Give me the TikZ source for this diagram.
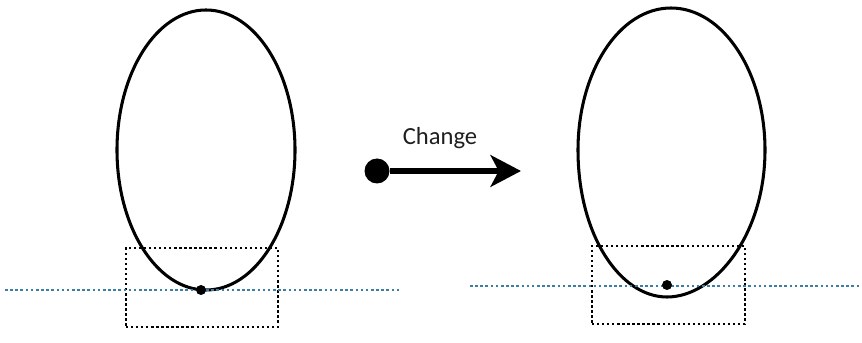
\documentclass[tikz,border=0pt]{standalone}
\usepackage{fontspec}
\setmainfont{Carlito}
\usepackage{xcolor}
\usetikzlibrary{arrows.meta,positioning,shapes.geometric}
\definecolor{gndblue}{RGB}{60,125,165}
\begin{document}
\begin{tikzpicture}[x=0.03cm,y=-0.03cm,
  outl/.style={draw, line width=2.6pt},
  dotbox/.style={draw, line width=2.1pt, dash pattern=on 2pt off 2.3pt},
  gnd/.style={draw=gndblue, line width=2pt, dash pattern=on 2.2pt off 2.2pt},
  pt/.style={circle, fill, inner sep=0pt, minimum size=0.3cm},
  arr/.style={-{Stealth[length=26pt,width=27pt,inset=7pt]}, line width=4.6pt}
]
\useasboundingbox (0,0) rectangle (862,343);
% left shape
\node[outl, ellipse, minimum width=5.34cm, minimum height=8.4cm, inner sep=0pt] (eggL) at (206,150) {};
\node[dotbox, minimum width=4.56cm, minimum height=2.37cm, inner sep=0pt] (boxL) at (202,287.5) {};
\coordinate (gL1) at (5,290);
\coordinate (gL2) at (400,290);
\draw[gnd] (gL1) -- (gL2);
\node[pt] (touchL) at (201,290) {};
% arrow
\node[pt, minimum size=0.75cm] (src) at (377,171) {};
\coordinate (dst) at (521,171);
\draw[arr] (src) -- (dst);
\node[font=\fontsize{21}{24}\selectfont, text=black!88] (lbl) at (440,138) {Change};
% right shape
\draw[outl] (671,8) .. controls (723,8) and (765,72) .. (765,150)
  .. controls (765,235) and (715,297) .. (667,297)
  .. controls (620,297) and (578,235) .. (578,150)
  .. controls (578,72) and (619,8) .. (671,8);
\node[dotbox, minimum width=4.59cm, minimum height=2.34cm, inner sep=0pt] (boxR) at (668.5,285) {};
\coordinate (gR1) at (470,286);
\coordinate (gR2) at (862,286);
\draw[gnd] (gR1) -- (gR2);
\node[pt] (touchR) at (667,285) {};
\end{tikzpicture}
\end{document}
